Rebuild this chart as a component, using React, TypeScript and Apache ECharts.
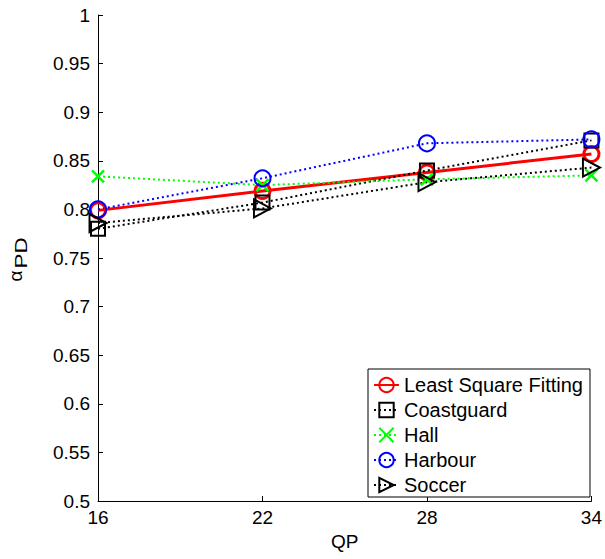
import React, { useEffect, useRef } from "react";
import * as echarts from "echarts";

// QP values on the horizontal axis
const qpLabels = ["16", "22", "28", "34"];

// alpha_PD per sequence at each QP
const leastSquareFitting = [0.799, 0.819, 0.838, 0.857];
const coastguard = [0.780, 0.807, 0.840, 0.871];
const hall = [0.834, 0.825, 0.831, 0.835];
const harbour = [0.800, 0.832, 0.868, 0.872];
const soccer = [0.786, 0.801, 0.828, 0.843];

const FONT = "Liberation Sans, Arial, Helvetica, sans-serif";
const CROSS = "path://M0,0L10,10M10,0L0,10";
const CLEAR = "rgba(0,0,0,0)";

export default function App() {
  const ref = useRef<HTMLDivElement>(null);

  useEffect(() => {
    if (!ref.current) return;
    const chart = echarts.init(ref.current, undefined, { renderer: "svg" });

    const dotted = (color: string) => ({
      color,
      width: 2,
      type: [2, 3] as number[],
    });

    chart.setOption({
      animation: false,
      backgroundColor: "#fff",
      textStyle: { fontFamily: FONT },
      grid: { left: 98, top: 15, width: 495, height: 486, containLabel: false },
      xAxis: {
        type: "category",
        data: qpLabels,
        boundaryGap: false,
        name: "QP",
        nameLocation: "middle",
        nameGap: 24,
        nameTextStyle: { fontSize: 19, color: "#000", fontFamily: FONT },
        axisLine: { lineStyle: { color: "#000", width: 1 } },
        axisTick: { inside: true, length: 5, alignWithLabel: true, lineStyle: { color: "#000" } },
        axisLabel: { fontSize: 19, color: "#000", margin: 7, fontFamily: FONT },
        splitLine: { show: false },
      },
      yAxis: {
        type: "value",
        min: 0.5,
        max: 1,
        interval: 0.05,
        axisLine: { show: true, lineStyle: { color: "#000", width: 1 } },
        axisTick: { show: true, inside: true, length: 5, lineStyle: { color: "#000" } },
        axisLabel: {
          fontSize: 19,
          color: "#000",
          margin: 8,
          fontFamily: FONT,
          formatter: (v: number) => String(Math.round(v * 100) / 100),
        },
        splitLine: { show: false },
      },
      legend: {
        orient: "vertical",
        left: 368,
        top: 369,
        padding: [6, 7, 2, 5],
        itemGap: 5,
        itemWidth: 25,
        itemHeight: 18,
        backgroundColor: "#fff",
        borderColor: "#000",
        borderWidth: 1,
        borderRadius: 0,
        textStyle: { fontSize: 20, color: "#000", fontFamily: FONT },
        data: ["Least Square Fitting", "Coastguard", "Hall", "Harbour", "Soccer"],
      },
      graphic: [
        {
          type: "text",
          x: 15,
          y: 276,
          rotation: Math.PI / 2,
          style: {
            text: "α",
            fontSize: 19,
            fontFamily: FONT,
            fill: "#000",
            align: "center",
            verticalAlign: "middle",
          },
        },
        {
          type: "text",
          x: 21,
          y: 253,
          rotation: Math.PI / 2,
          scaleX: 1.4,
          style: {
            text: "PD",
            fontSize: 16,
            fontFamily: FONT,
            fill: "#000",
            align: "center",
            verticalAlign: "middle",
          },
        },
      ],
      series: [
        {
          name: "Least Square Fitting",
          type: "line",
          data: leastSquareFitting,
          symbol: "circle",
          symbolSize: 15,
          lineStyle: { color: "#ff0000", width: 3, type: "solid" },
          itemStyle: { color: CLEAR, borderColor: "#ff0000", borderWidth: 3 },
        },
        {
          name: "Coastguard",
          type: "line",
          data: coastguard,
          symbol: "rect",
          symbolSize: 14,
          lineStyle: dotted("#000"),
          itemStyle: { color: CLEAR, borderColor: "#000", borderWidth: 2 },
        },
        {
          name: "Hall",
          type: "line",
          data: hall,
          symbol: CROSS,
          symbolSize: 12,
          lineStyle: dotted("#00ff00"),
          itemStyle: { color: CLEAR, borderColor: "#00ff00", borderWidth: 2.5 },
        },
        {
          name: "Harbour",
          type: "line",
          data: harbour,
          symbol: "circle",
          symbolSize: 16,
          lineStyle: dotted("#0000ff"),
          itemStyle: { color: CLEAR, borderColor: "#0000ff", borderWidth: 2 },
        },
        {
          name: "Soccer",
          type: "line",
          data: soccer,
          symbol: "triangle",
          symbolSize: [18, 17],
          symbolRotate: -90,
          lineStyle: dotted("#000"),
          itemStyle: { color: CLEAR, borderColor: "#000", borderWidth: 2 },
        },
      ],
    });

    return () => chart.dispose();
  }, []);

  return (
    <div
      ref={ref}
      style={{ position: "absolute", left: 0, top: 0, width: 605, height: 559 }}
    />
  );
}
